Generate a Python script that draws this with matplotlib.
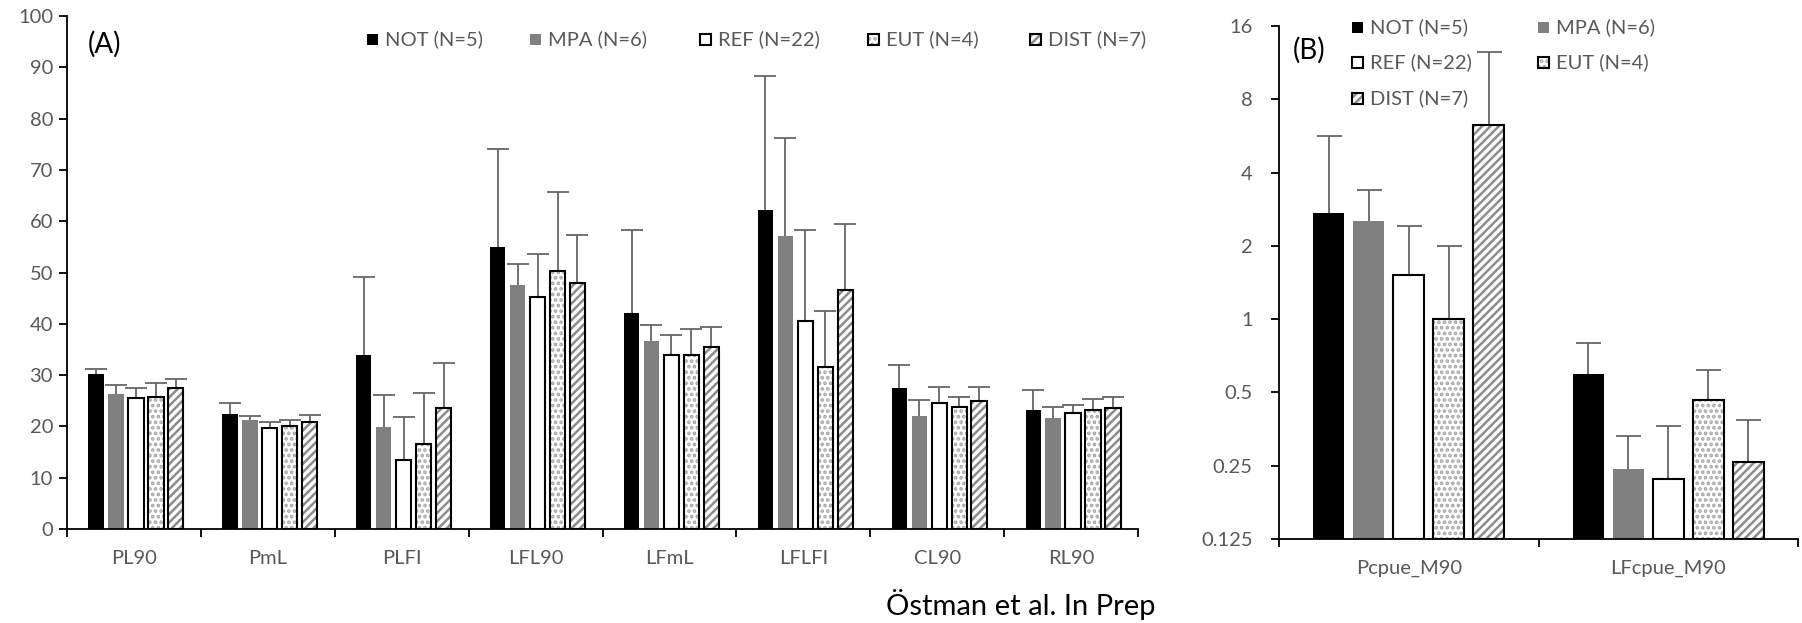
import numpy as np
import matplotlib.pyplot as plt
from matplotlib.patches import Rectangle

plt.rcParams['font.family'] = ['Lato', 'DejaVu Sans']
plt.rcParams['hatch.linewidth'] = 1.8

# ----------------------------------------------
# Data
# ----------------------------------------------

groups = ['NOT (N=5)', 'MPA (N=6)', 'REF (N=22)', 'EUT (N=4)', 'DIST (N=7)']

cats_a = ['PL90', 'PmL', 'PLFI', 'LFL90', 'LFmL', 'LFLFI', 'CL90', 'RL90']
mean_not = [30.2, 22.4, 34.0, 54.9, 42.2, 62.2, 27.4, 23.2]
mean_mpa = [26.3, 21.2, 19.8, 47.6, 36.7, 57.1, 22.0, 21.6]
mean_ref = [25.5, 19.6, 13.4, 45.2, 33.9, 40.5, 24.6, 22.7]
mean_eut = [25.8, 20.1, 16.5, 50.2, 33.9, 31.6, 23.8, 23.1]
mean_dist = [27.4, 20.8, 23.5, 47.9, 35.5, 46.6, 25.0, 23.5]

sd_not = [1.0, 2.2, 15.1, 19.1, 16.1, 26.1, 4.5, 3.8]
sd_mpa = [1.8, 0.8, 6.3, 4.1, 3.1, 19.2, 3.1, 2.1]
sd_ref = [1.9, 1.2, 8.5, 8.4, 3.9, 17.8, 3.0, 1.5]
sd_eut = [2.7, 1.1, 10.0, 15.4, 5.0, 10.8, 1.9, 2.2]
sd_dist = [1.8, 1.5, 8.9, 9.5, 3.8, 12.8, 2.6, 2.2]

cats_b = ['Pcpue_M90', 'LFcpue_M90']
cpue_not = [2.72, 0.595]
cpue_mpa = [2.54, 0.242]
cpue_ref = [1.52, 0.22]
cpue_eut = [1.0, 0.467]
cpue_dist = [6.28, 0.26]

cpue_sd_not = [2.94, 0.205]
cpue_sd_mpa = [0.84, 0.09]
cpue_sd_ref = [0.90, 0.145]
cpue_sd_eut = [1.0, 0.151]
cpue_sd_dist = [6.28, 0.125]

yticks_b = [0.125, 0.25, 0.5, 1, 2, 4, 8, 16]
yticklabels_b = ['0.125', '0.25', '0.5', '1', '2', '4', '8', '16']

# ----------------------------------------------
# Styles
# ----------------------------------------------

# face, hatch, hatch colour, outline
styles = [
    ('black', None, None, None),
    ('#808080', None, None, None),
    ('white', None, None, 'black'),
    ('white', '...', '#a6a6a6', 'black'),
    ('white', '////', '#8c8c8c', 'black'),
]
grey_txt = '#595959'
err_col = '#666666'

W, H = 1802, 623
fig = plt.figure(figsize=(W / 100, H / 100), dpi=100)


def draw_bars(ax, x, vals, sds, i, width, bottom=0, capsize=8):
    face, hatch, hcol, edge = styles[i]
    vals = np.asarray(vals)
    if hatch is None:
        ax.bar(x, vals - bottom, width, bottom=bottom, color=face,
               edgecolor=edge if edge else face, linewidth=1.5 if edge else 0, zorder=2)
    else:
        ax.bar(x, vals - bottom, width, bottom=bottom, color=face, hatch=hatch,
               edgecolor=hcol, linewidth=0, zorder=2)
        ax.bar(x, vals - bottom, width, bottom=bottom, fill=False,
               edgecolor=edge, linewidth=1.5, zorder=3)
    err = ax.errorbar(x, vals, yerr=[np.zeros(len(vals)), sds], fmt='none',
                      ecolor=err_col, elinewidth=1.3, capsize=capsize, capthick=1.3, zorder=1)
    err[1][0].set_visible(False)


def style_axis(ax, ncat):
    for s in ['top', 'right']:
        ax.spines[s].set_visible(False)
    for s in ['left', 'bottom']:
        ax.spines[s].set_linewidth(1.3)
        ax.spines[s].set_color('black')
    ax.set_xlim(-0.5, ncat - 0.5)
    ax.set_xticks(np.arange(ncat + 1) - 0.5, minor=True)
    ax.tick_params(axis='x', which='major', length=0, pad=15, labelsize=14.5, labelcolor=grey_txt)
    ax.tick_params(axis='x', which='minor', length=6, width=1.3, direction='out')


def legend_entry(x, y, i, label):
    face, hatch, hcol, edge = styles[i]
    s = 11
    if hatch is None:
        r = Rectangle((x / W, 1 - (y + s / 2) / H), s / W, s / H, transform=fig.transFigure,
                      facecolor=face, edgecolor=edge if edge else face, linewidth=1.5 if edge else 0)
        fig.add_artist(r)
    else:
        r = Rectangle((x / W, 1 - (y + s / 2) / H), s / W, s / H, transform=fig.transFigure,
                      facecolor=face, hatch=hatch, edgecolor=hcol, linewidth=0)
        fig.add_artist(r)
        r2 = Rectangle((x / W, 1 - (y + s / 2) / H), s / W, s / H, transform=fig.transFigure,
                       fill=False, edgecolor=edge, linewidth=1.5)
        fig.add_artist(r2)
    fig.text((x + 18) / W, 1 - y / H, label, ha='left', va='center', fontsize=14.5, color=grey_txt)


# ----------------------------------------------
# Panel A
# ----------------------------------------------

axA = fig.add_axes([67 / W, 1 - 529 / H, (1138 - 67) / W, (529 - 16) / H])
means_a = [mean_not, mean_mpa, mean_ref, mean_eut, mean_dist]
sds_a = [sd_not, sd_mpa, sd_ref, sd_eut, sd_dist]
xa = np.arange(len(cats_a))
pitch_a, width_a = 0.149, 0.114
for i in range(5):
    draw_bars(axA, xa + (i - 2) * pitch_a + 0.015, means_a[i], sds_a[i], i, width_a)

style_axis(axA, len(cats_a))
axA.set_xticks(xa)
axA.set_xticklabels(cats_a)
axA.set_ylim(0, 100)
axA.set_yticks(np.arange(0, 101, 10))
axA.tick_params(axis='y', direction='out', length=6, width=1.3, pad=4, labelsize=14.5, labelcolor=grey_txt)

fig.text(88 / W, 1 - 44 / H, '(A)', ha='left', va='center', fontsize=20, color='black')
for i, xl in enumerate([367, 530, 700, 868, 1030]):
    legend_entry(xl, 39, i, groups[i])

# ----------------------------------------------
# Panel B
# ----------------------------------------------

axB = fig.add_axes([1279 / W, 1 - 539 / H, (1798 - 1279) / W, (539 - 26) / H])
means_b = [cpue_not, cpue_mpa, cpue_ref, cpue_eut, cpue_dist]
sds_b = [cpue_sd_not, cpue_sd_mpa, cpue_sd_ref, cpue_sd_eut, cpue_sd_dist]
xb = np.arange(len(cats_b))
pitch_b, width_b = 0.154, 0.12
axB.set_yscale('log', base=2)
for i in range(5):
    draw_bars(axB, xb + (i - 2) * pitch_b, means_b[i], sds_b[i], i, width_b, bottom=0.125, capsize=9)

style_axis(axB, len(cats_b))
axB.set_xticks(xb)
axB.set_xticklabels(cats_b)
axB.set_ylim(0.125, 16)
axB.set_yticks(yticks_b)
axB.set_yticklabels(yticklabels_b)
axB.minorticks_off()
axB.set_xticks(np.arange(len(cats_b) + 1) - 0.5, minor=True)
axB.tick_params(axis='x', which='minor', length=6, width=1.3, direction='out')
axB.tick_params(axis='y', direction='out', length=6, width=1.3, pad=13, labelsize=14.5, labelcolor=grey_txt)

fig.text(1293 / W, 1 - 50 / H, '(B)', ha='left', va='center', fontsize=20, color='black')
legend_pos_b = [(1352, 27), (1538, 27), (1352, 62), (1538, 62), (1352, 98)]
for i, (xl, yl) in enumerate(legend_pos_b):
    legend_entry(xl, yl, i, groups[i])

fig.text(1155 / W, 1 - 605 / H, 'Östman et al. In Prep', ha='right', va='center', fontsize=21, color='black')

fig.savefig('out.png', dpi=100)
